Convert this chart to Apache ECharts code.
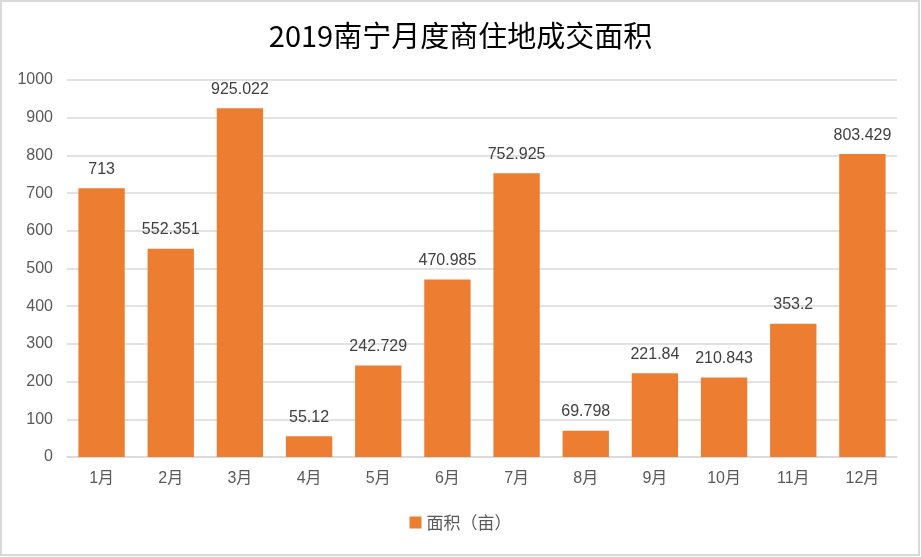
<!DOCTYPE html>
<html>
<head>
<meta charset="utf-8">
<script src="https://cdn.jsdelivr.net/npm/echarts@6/dist/echarts.min.js"></script>
<style>
html,body{margin:0;padding:0;background:#fff;}
#c{width:921px;height:557px;}
</style>
</head>
<body>
<div id="c"></div>
<script>
const titleText = '2019南宁月度商住地成交面积';
const categories = ['1月','2月','3月','4月','5月','6月','7月','8月','9月','10月','11月','12月'];
const areaValues = [713, 552.351, 925.022, 55.12, 242.729, 470.985, 752.925, 69.798, 221.84, 210.843, 353.2, 803.429];
const seriesName = '面积（亩）';

const chart = echarts.init(document.getElementById('c'), null, {renderer:'canvas'});
const font = '"Liberation Sans", "Noto Sans CJK SC", sans-serif';
chart.setOption({
  backgroundColor: '#ffffff',
  animation: false,
  title: {
    text: titleText,
    left: 'center',
    top: 16,
    textStyle: {fontFamily: '"Noto Sans CJK SC", sans-serif', fontSize: 29, fontWeight: 'normal', color: '#000000'}
  },
  graphic: [{
    type: 'rect',
    shape: {x: 1, y: 1, width: 918, height: 554},
    style: {fill: 'none', stroke: '#D9D9D9', lineWidth: 2},
    silent: true
  }],
  legend: {
    bottom: 21,
    left: 'center',
    itemWidth: 12,
    itemHeight: 12,
    itemGap: 8,
    icon: 'rect',
    textStyle: {fontFamily: '"Noto Sans CJK SC", sans-serif', fontSize: 17, color: '#595959'},
    data: [seriesName]
  },
  grid: {left: 67, right: 24, top: 80, bottom: 100, containLabel: false},
  xAxis: {
    type: 'category',
    data: categories,
    axisLine: {lineStyle: {color: '#D9D9D9', width: 1.5}},
    axisTick: {show: false},
    axisLabel: {fontFamily: font, fontSize: 16, color: '#595959', margin: 14}
  },
  yAxis: {
    type: 'value',
    min: 0, max: 1000, interval: 100,
    axisLine: {show: false},
    axisTick: {show: false},
    splitLine: {lineStyle: {color: '#D9D9D9', width: 1.5}},
    axisLabel: {fontFamily: font, fontSize: 16, color: '#595959', margin: 14, formatter: function (v) { return String(v); }}
  },
  series: [{
    name: seriesName,
    type: 'bar',
    data: areaValues,
    barWidth: '67%',
    itemStyle: {color: '#ED7D31'},
    label: {
      show: true, position: 'top', distance: 11,
      fontFamily: font, fontSize: 16, color: '#404040'
    }
  }]
});
</script>
</body>
</html>
